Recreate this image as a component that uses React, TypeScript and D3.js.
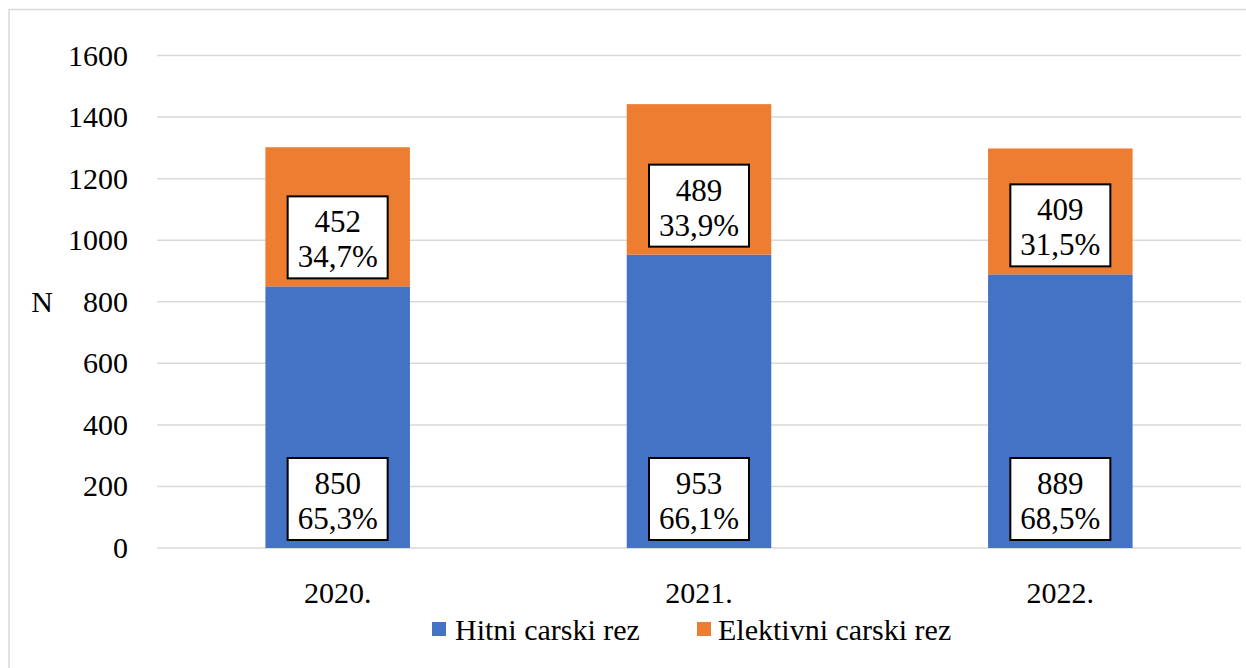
import React from "react";
import * as d3 from "d3";

const categories = ["2020.", "2021.", "2022."];
const hitni = [850, 953, 889];
const elektivni = [452, 489, 409];
const hitniPct = ["65,3%", "66,1%", "68,5%"];
const elektivniPct = ["34,7%", "33,9%", "31,5%"];
const yTicks = [0, 200, 400, 600, 800, 1000, 1200, 1400, 1600];
const seriesNames = ["Hitni carski rez", "Elektivni carski rez"];
const colors = ["#4472C4", "#ED7D31"];

const W = 1246;
const H = 668;
const FONT = '"Liberation Serif", "Times New Roman", Times, "DejaVu Serif", serif';
const ts = { fontFamily: FONT };

export default function App() {
  const x = d3.scaleBand<string>().domain(categories).range([157, 1241]).paddingInner(0.6).paddingOuter(0.3);
  const y = d3.scaleLinear().domain([0, 1600]).range([548, 55.5]);
  const bw = x.bandwidth();

  const boxW = 100;
  const boxH = 82;

  const label = (cx: number, baseY: number, v: number, pct: string, key: string) => (
    <g key={key}>
      <rect x={cx - boxW / 2} y={baseY - 8 - boxH} width={boxW} height={boxH} fill="#fff" stroke="#000" strokeWidth={2} />
      <text x={cx} y={baseY - 8 - boxH + 36} textAnchor="middle" fontSize={31} style={ts} fill="#000">{v}</text>
      <text x={cx} y={baseY - 8 - boxH + 71} textAnchor="middle" fontSize={31} style={ts} fill="#000">{pct}</text>
    </g>
  );

  return (
    <svg width={W} height={H} style={{ position: "absolute", left: 0, top: 0, background: "#fff", fontFamily: FONT }}>
      <rect x={0} y={0} width={W} height={H} fill="#fff" />
      <rect x={9} y={9.5} width={W + 20} height={H + 20} fill="none" stroke="#d9d9d9" strokeWidth={1.5} />
      {yTicks.map((t) => (
        <g key={t}>
          <line x1={157} x2={1241} y1={y(t)} y2={y(t)} stroke="#d9d9d9" strokeWidth={1.5} />
          <text x={128} y={y(t) + 10} textAnchor="end" fontSize={30} style={ts} fill="#000">{t}</text>
        </g>
      ))}
      <text x={42} y={312} textAnchor="middle" fontSize={30} style={ts} fill="#000">N</text>
      {categories.map((c, i) => {
        const x0 = x(c)!;
        return (
          <g key={c}>
            <rect x={x0} y={y(hitni[i])} width={bw} height={y(0) - y(hitni[i])} fill={colors[0]} />
            <rect x={x0} y={y(hitni[i] + elektivni[i])} width={bw} height={y(hitni[i]) - y(hitni[i] + elektivni[i])} fill={colors[1]} />
          </g>
        );
      })}
      {categories.map((c, i) => {
        const cx = x(c)! + bw / 2;
        return (
          <g key={"l" + c}>
            {label(cx, y(0), hitni[i], hitniPct[i], "h" + c)}
            {label(cx, y(hitni[i]), elektivni[i], elektivniPct[i], "e" + c)}
            <text x={cx} y={603} textAnchor="middle" fontSize={30} style={ts} fill="#000">{c}</text>
          </g>
        );
      })}
      <g>
        <rect x={432} y={622} width={14} height={14} fill={colors[0]} />
        <text x={455} y={640} fontSize={30} style={ts} fill="#000">{seriesNames[0]}</text>
        <rect x={697} y={622} width={14} height={14} fill={colors[1]} />
        <text x={718} y={640} fontSize={30} style={ts} fill="#000">{seriesNames[1]}</text>
      </g>
    </svg>
  );
}
